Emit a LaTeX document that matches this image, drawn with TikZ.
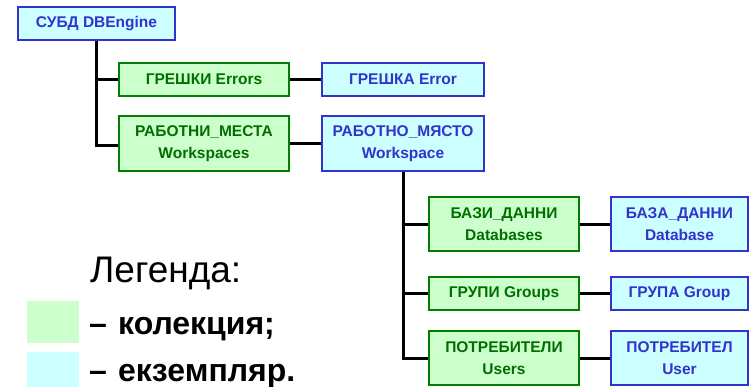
\documentclass[tikz,border=0pt]{standalone}
\usepackage{fontspec}
\setmainfont{Liberation Sans}
\usetikzlibrary{positioning}

\definecolor{collfill}{HTML}{CCFFCC}
\definecolor{collline}{HTML}{008000}
\definecolor{collink}{HTML}{006F00}
\definecolor{instfill}{HTML}{CCFFFF}
\definecolor{instline}{HTML}{3333CC}
\definecolor{instink}{HTML}{3333CC}

\tikzset{
  box/.style={rectangle, line width=2pt, align=center, inner sep=0pt,
    font=\fontsize{15.5}{22}\selectfont\bfseries},
  coll/.style={box, draw=collline, fill=collfill, text=collink},
  inst/.style={box, draw=instline, fill=instfill, text=instink},
  link/.style={line width=3pt, black},
  legtext/.style={anchor=base west, inner sep=0pt, font=\fontsize{32}{36}\selectfont\bfseries}
}

\begin{document}
\begin{tikzpicture}[x=1pt, y=-1pt]
  \useasboundingbox (0,0) rectangle (749,386);

  % engine and its collections
  \node[inst, minimum width=157pt, minimum height=33pt] (engine) at (96.5,23.5) {СУБД DBEngine};
  \node[coll, minimum width=170pt, minimum height=33pt] (errors) at (204,79.5) {ГРЕШКИ Errors};
  \node[coll, minimum width=170pt, minimum height=55pt] (workspaces) at (204,143.5) {РАБОТНИ\_МЕСТА\\Workspaces};
  \node[inst, minimum width=162pt, minimum height=33pt, right=31pt of errors] (error) {ГРЕШКА Error};
  \node[inst, minimum width=162pt, minimum height=55pt, right=31pt of workspaces] (workspace) {РАБОТНО\_МЯСТО\\Workspace};

  % workspace and its collections
  \node[coll, minimum width=150pt, minimum height=54pt] (databases) at (504,224) {БАЗИ\_ДАННИ\\Databases};
  \node[coll, minimum width=150pt, minimum height=33pt] (groups) at (504,293.5) {ГРУПИ Groups};
  \node[coll, minimum width=150pt, minimum height=54pt] (users) at (504,358) {ПОТРЕБИТЕЛИ\\Users};
  \node[inst, minimum width=137pt, minimum height=54pt, right=30pt of databases] (database) {БАЗА\_ДАННИ\\Database};
  \node[inst, minimum width=137pt, minimum height=33pt, right=30pt of groups] (group) {ГРУПА Group};
  \node[inst, minimum width=137pt, minimum height=54pt, right=30pt of users] (user) {ПОТРЕБИТЕЛ\\User};

  \begin{scope}[on background layer/.try]
    \draw[link] (engine.south) |- (errors.west);
    \draw[link] (engine.south) |- ([yshift=-1.5pt]workspaces.west);
    \draw[link] (errors) -- (error);
    \draw[link] (workspaces) -- (workspace);
    \draw[link] (workspace.south) |- (databases.west);
    \draw[link] (workspace.south) |- (groups.west);
    \draw[link] (workspace.south) |- (users.west);
    \draw[link] (databases) -- (database);
    \draw[link] (groups) -- (group);
    \draw[link] (users) -- (user);
  \end{scope}

  % legend
  \node[anchor=base west, inner sep=0pt, font=\fontsize{37}{40}\selectfont] (legend) at (90,282) {Легенда:};
  \node[fill=collfill, minimum width=52pt, minimum height=42pt, inner sep=0pt] (collkey) at (53,322) {};
  \node[fill=instfill, minimum width=52pt, minimum height=42pt, inner sep=0pt] (instkey) at (53,373) {};
  \node[legtext] (colltext) at (89,334) {–\hspace{0.35em}колекция;};
  \node[legtext] (insttext) at (89,381) {–\hspace{0.35em}екземпляр.};
\end{tikzpicture}
\end{document}
